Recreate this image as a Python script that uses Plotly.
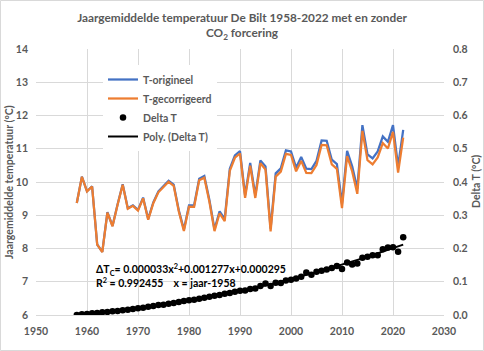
import numpy as np
import plotly.graph_objects as go

years = list(range(1958, 2023))

t_origineel = [
    9.37, 10.16, 9.72, 9.87, 8.12, 7.90, 9.09, 8.68, 9.33, 9.93,
    9.21, 9.30, 9.16, 9.53, 8.89, 9.39, 9.72, 9.89, 10.04, 9.92,
    9.15, 8.57, 9.30, 9.30, 10.10, 10.18, 9.46, 8.58, 9.12, 8.89,
    10.40, 10.80, 10.93, 9.60, 10.57, 9.60, 10.65, 10.47, 8.60, 10.26,
    10.41, 10.95, 10.92, 10.43, 10.75, 10.40, 10.39, 10.64, 11.25, 11.24,
    10.67, 10.54, 9.35, 10.94, 10.47, 9.80, 11.71, 10.83, 10.71, 10.92,
    11.37, 11.21, 11.71, 10.47, 11.57,
]

delta_t = [
    0.000, 0.002, 0.003, 0.005, 0.006, 0.008, 0.009, 0.011, 0.012, 0.014,
    0.016, 0.018, 0.020, 0.022, 0.025, 0.027, 0.030, 0.031, 0.034, 0.036,
    0.039, 0.042, 0.044, 0.046, 0.049, 0.052, 0.055, 0.058, 0.060, 0.064,
    0.066, 0.070, 0.073, 0.074, 0.078, 0.080, 0.087, 0.095, 0.087, 0.097,
    0.096, 0.104, 0.106, 0.110, 0.115, 0.128, 0.121, 0.130, 0.133, 0.137,
    0.141, 0.147, 0.138, 0.158, 0.152, 0.155, 0.172, 0.175, 0.180, 0.180,
    0.198, 0.203, 0.204, 0.190, 0.234,
]

# corrected temperature = original minus CO2-forcing contribution
t_gecorrigeerd = [round(a - b, 3) for a, b in zip(t_origineel, delta_t)]

# second-order polynomial trendline through Delta T (x = jaar - 1958)
xs = np.array(years) - 1958
coef = np.polyfit(xs, delta_t, 2)
poly_fit = np.polyval(coef, xs)

title_text = "Jaargemiddelde temperatuur De Bilt 1958-2022 met en zonder<br>CO<sub>2</sub> forcering"
eq_line1 = "ΔT<sub>C</sub>= 0.000033x<sup>2</sup>+0.001277x+0.000295"
eq_line2 = "R<sup>2</sup> = 0.992455\u00a0\u00a0\u00a0\u00a0x = jaar-1958"

GREY = "#595959"
GRID = "#d9d9d9"
FONT = "Lato"

fig = go.Figure()
fig.add_trace(go.Scatter(x=years, y=t_origineel, mode="lines", name="T-origineel",
                         line=dict(color="#4472C4", width=2.25)))
fig.add_trace(go.Scatter(x=years, y=t_gecorrigeerd, mode="lines", name="T-gecorrigeerd",
                         line=dict(color="#ED7D31", width=2.25)))
fig.add_trace(go.Scatter(x=years, y=delta_t, mode="markers", name="Delta T", yaxis="y2",
                         marker=dict(color="black", size=6.5)))
fig.add_trace(go.Scatter(x=years, y=poly_fit, mode="lines", name="Poly. (Delta T)", yaxis="y2",
                         line=dict(color="black", width=2)))

W, H = 484, 351
L, R, T, B = 36, 40, 49, 36
pw, ph = W - L - R, H - T - B

fig.update_layout(
    width=W, height=H,
    margin=dict(l=L, r=R, t=T, b=B),
    paper_bgcolor="white", plot_bgcolor="white",
    font=dict(family=FONT, color=GREY, size=11, weight="bold"),
    title=dict(text=title_text, x=(242 - L) / pw, xref="paper", xanchor="center",
               y=1 - 22 / H, yanchor="middle",
               font=dict(family=FONT, size=11.8, color=GREY, weight="bold")),
    xaxis=dict(range=[1950, 2030], dtick=10, showgrid=True, gridcolor=GRID, gridwidth=1,
               zeroline=False, showline=True, linecolor=GRID, ticks="",
               tickfont=dict(size=10.5), ticklabelstandoff=6),
    yaxis=dict(range=[6, 14], dtick=1, showgrid=True, gridcolor=GRID, gridwidth=1,
               zeroline=False, showline=False, ticks="", tickfont=dict(size=10.5),
               ticklabelstandoff=7),
    yaxis2=dict(range=[0, 0.8], dtick=0.1, tickformat=".1f", overlaying="y", side="right",
                showgrid=False, zeroline=False, showline=False, ticks="",
                tickfont=dict(size=10.5), ticklabelstandoff=8),
    showlegend=True,
    legend=dict(x=(103 - L) / pw, xanchor="left", y=(H - B - 65) / ph, yanchor="top",
                bgcolor="white", borderwidth=0, font=dict(size=10.5, color=GREY),
                traceorder="normal"),
)

# axis titles
fig.add_annotation(text="Jaargemiddelde temperatuur (°C)", xref="paper", yref="paper",
                   x=(9 - L) / pw, y=0.5, textangle=-90, showarrow=False,
                   xanchor="center", yanchor="middle", font=dict(size=10.5))
fig.add_annotation(text="Delta T (°C)", xref="paper", yref="paper",
                   x=(476 - L) / pw, y=0.5, textangle=-90, showarrow=False,
                   xanchor="center", yanchor="middle", font=dict(size=10.5))

# trendline equation
fig.add_annotation(text=eq_line1, xref="paper", yref="paper", x=(94 - L) / pw,
                   y=(H - B - 270) / ph, xanchor="left", yanchor="middle", showarrow=False,
                   font=dict(size=10.5, color="black"))
fig.add_annotation(text=eq_line2, xref="paper", yref="paper", x=(94 - L) / pw,
                   y=(H - B - 282) / ph, xanchor="left", yanchor="middle", showarrow=False,
                   font=dict(size=10.5, color="black"))

# chart-area border
fig.add_shape(type="rect", xref="paper", yref="paper", layer="below",
              x0=-(L - 0.5) / pw, x1=(W - 0.5 - L) / pw,
              y0=-(B - 0.5) / ph, y1=(H - 0.5 - B) / ph,
              line=dict(color=GRID, width=1))

fig.write_html("out.html")
